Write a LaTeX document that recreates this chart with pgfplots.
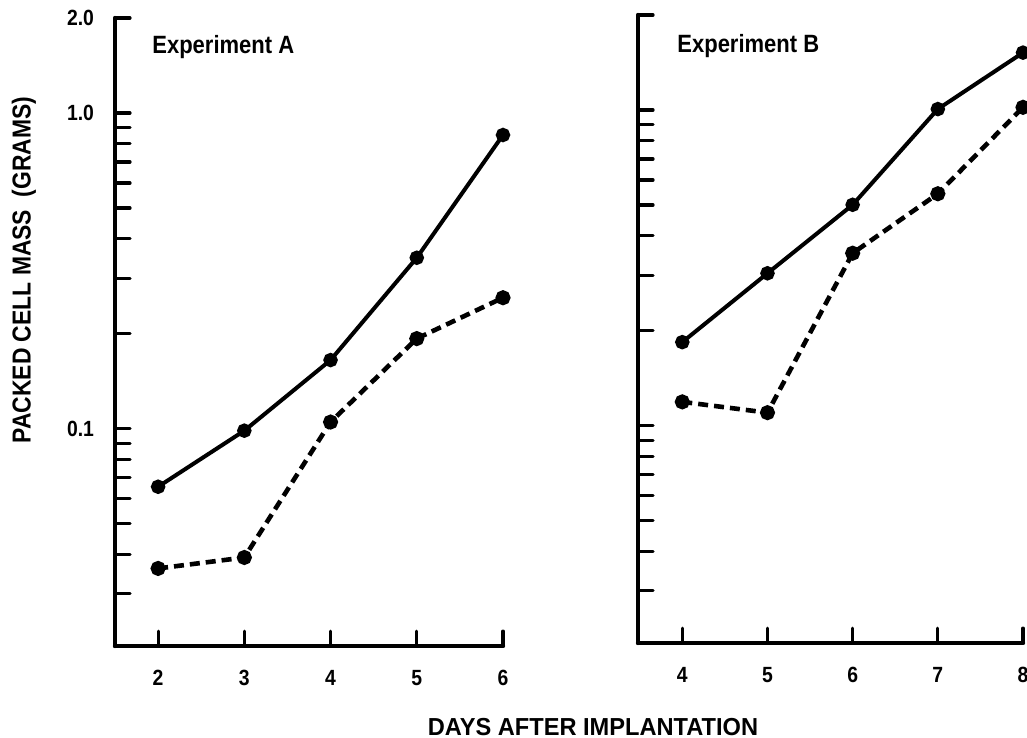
\documentclass[border=0pt]{standalone}
\usepackage{pgfplots}
\pgfplotsset{compat=1.18}
\usepackage{pgfplotstable}
\usepackage{fontspec}
\setmainfont{Liberation Sans}[FakeStretch=0.88]
\newfontfamily\labfont{Liberation Sans}[FakeStretch=0.96]

\pgfplotstableread{
x y
2 0.0655
3 0.0986
4 0.165
5 0.348
6 0.852
}\Asolid
\pgfplotstableread{
x y
2 0.0361
3 0.0391
4 0.105
5 0.193
6 0.260
}\Adash
\pgfplotstableread{
x y
4 0.184
5 0.304
6 0.501
7 1.007
8 1.52
}\Bsolid
\pgfplotstableread{
x y
4 0.119
5 0.110
6 0.352
7 0.543
8 1.02
}\Bdash

\pgfplotsset{
  solidline/.style={black, line width=2pt, mark=*, mark size=2.6pt},
  dashline/.style={black, line width=2.3pt, dash pattern=on 5pt off 3pt, mark=*, mark size=2.6pt, mark options={solid}},
}

\begin{document}
\begin{tikzpicture}
\path[use as bounding box] (0pt,0pt) rectangle (513.5pt,-369pt);
\clip (0pt,0pt) rectangle (513.5pt,-369pt);

\begin{axis}[scale only axis, anchor=north west,
  at={(57.5pt,-9pt)}, width=194pt, height=314pt,
  ymode=log, ymin=0.0205, ymax=2,
  axis lines=left,
  axis line style={-, line width=2.2pt, line cap=round},
  tick align=inside, major tick length=7.5pt,
  every tick/.style={black, line width=1.6pt, line cap=round},
  ytick={0.03,0.04,0.05,0.06,0.07,0.08,0.09,0.1,0.2,0.3,0.4,0.5,0.6,0.7,0.8,0.9,1,2},
  yminorticks=false, xminorticks=false,
  /pgf/number format/assume math mode=true,
  ticklabel style={font=\bfseries\fontsize{11}{13}\selectfont},
  xticklabel style={yshift=-8.5pt},
  yticklabel style={xshift=-7pt},
  clip=false,
  xmin=1.5, xmax=6, xtick={2,3,4,5,6},
  yticklabels={,,,,,,,0.1,,,,,,,,,1.0,2.0}]
  \addplot[solidline] table {\Asolid};
  \addplot[dashline] table {\Adash};
\end{axis}

\begin{axis}[scale only axis, anchor=north west,
  at={(319pt,-7.5pt)}, width=192.5pt, height=314pt,
  ymode=log, ymin=0.0205, ymax=2,
  axis lines=left,
  axis line style={-, line width=2.2pt, line cap=round},
  tick align=inside, major tick length=7.5pt,
  every tick/.style={black, line width=1.6pt, line cap=round},
  ytick={0.03,0.04,0.05,0.06,0.07,0.08,0.09,0.1,0.2,0.3,0.4,0.5,0.6,0.7,0.8,0.9,1,2},
  yminorticks=false, xminorticks=false,
  /pgf/number format/assume math mode=true,
  ticklabel style={font=\bfseries\fontsize{11}{13}\selectfont},
  xticklabel style={yshift=-8.5pt},
  clip=false,
  xmin=3.48, xmax=8, xtick={4,5,6,7,8},
  yticklabels={}]
  \addplot[solidline] table {\Bsolid};
  \addplot[dashline] table {\Bdash};
\end{axis}

\node[anchor=west, inner sep=0pt, font=\bfseries\fontsize{12.5}{14}\selectfont] at (76pt,-23.5pt) {Experiment A};
\node[anchor=west, inner sep=0pt, font=\bfseries\fontsize{12.5}{14}\selectfont] at (338.5pt,-23pt) {Experiment B};
\node[rotate=90, font=\bfseries\fontsize{13}{15}\selectfont] at (12pt,-135pt) {PACKED CELL MASS\ \ (GRAMS)};
\node[font=\labfont\bfseries\fontsize{12.3}{14}\selectfont] at (296.5pt,-363.5pt) {DAYS AFTER IMPLANTATION};
\end{tikzpicture}
\end{document}
